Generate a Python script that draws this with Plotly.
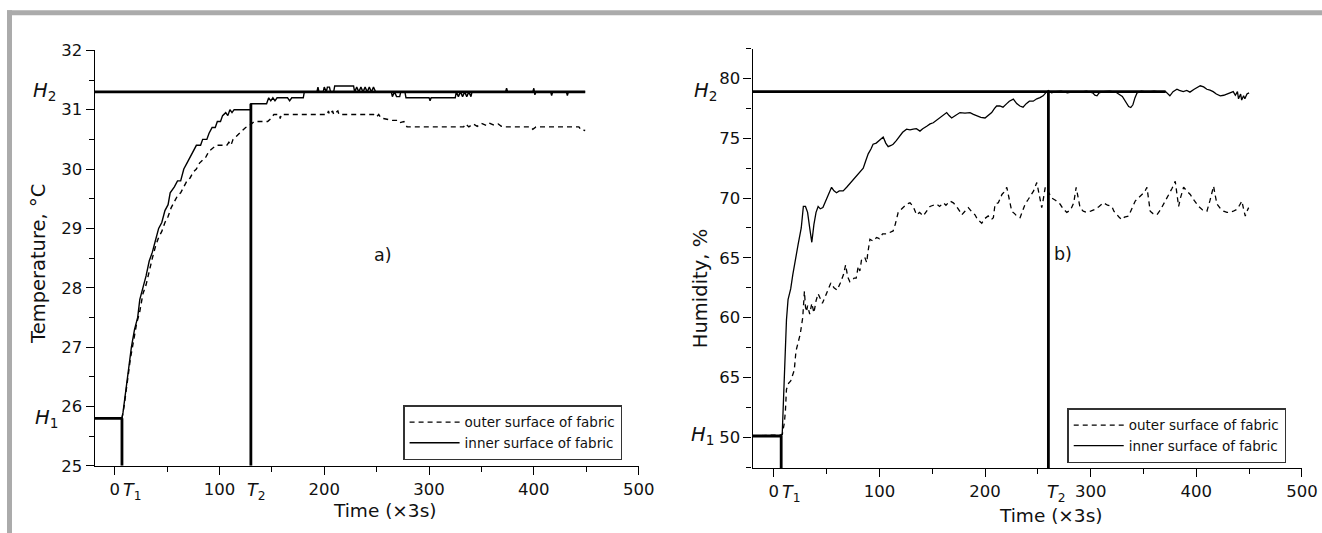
import plotly.graph_objects as go

# ---- data ----------------------------------------------------------------
# a) temperature, time in units of 3 s
T1_A, T2_A = 7, 130
H1_A, H2_A = 25.8, 31.3
T2_LEVEL_A = 31.1

temp_inner_x = [-19, 7, 8, 10, 13, 16, 19, 22, 24, 27, 30, 33, 36, 39, 42, 45, 48, 51, 53, 57,
                60, 63, 66, 69, 72, 75, 78, 82, 84, 88, 90, 93, 96, 98, 101, 103, 106, 108, 110,
                112, 114, 130, 130, 145, 147, 149, 151, 153, 155, 165, 167, 169, 180, 181, 193,
                194, 195, 199, 200, 202, 203, 205, 206, 209, 210, 228, 229, 231, 233, 235, 237,
                239, 241, 243, 245, 247, 249, 264, 265, 267, 269, 272, 273, 277, 278, 300, 301,
                302, 325, 326, 328, 330, 332, 334, 336, 338, 340, 341, 373, 374, 375, 399, 400,
                401, 402, 416, 417, 418, 431, 432, 433, 449]
temp_inner_y = [25.8, 25.8, 25.9, 26.2, 26.6, 27.0, 27.3, 27.5, 27.8, 28.0, 28.2, 28.45, 28.6,
                28.8, 29.0, 29.1, 29.3, 29.4, 29.6, 29.7, 29.8, 29.8, 30.0, 30.1, 30.2, 30.3,
                30.4, 30.4, 30.5, 30.5, 30.6, 30.7, 30.7, 30.8, 30.8, 30.9, 30.95, 30.9, 31.0,
                30.95, 31.0, 31.0, 31.1, 31.1, 31.2, 31.15, 31.2, 31.15, 31.2, 31.2, 31.15, 31.2,
                31.2, 31.3, 31.3, 31.38, 31.3, 31.3, 31.38, 31.3, 31.38, 31.38, 31.3, 31.3, 31.4,
                31.4, 31.3, 31.38, 31.3, 31.38, 31.3, 31.38, 31.3, 31.38, 31.3, 31.38, 31.3, 31.3,
                31.22, 31.3, 31.22, 31.22, 31.3, 31.3, 31.2, 31.2, 31.15, 31.2, 31.2, 31.3, 31.22,
                31.3, 31.22, 31.3, 31.22, 31.3, 31.22, 31.3, 31.3, 31.36, 31.3, 31.3, 31.36,
                31.25, 31.3, 31.3, 31.24, 31.3, 31.3, 31.24, 31.3, 31.3]

temp_outer_x = [-19, 7, 9, 12, 15, 18, 21, 24, 27, 30, 33, 36, 39, 42, 45, 48, 51, 54, 57, 60,
                63, 66, 69, 72, 75, 78, 81, 84, 87, 90, 94, 97, 107, 109, 111, 113, 116, 119,
                122, 125, 128, 130, 133, 146, 149, 152, 157, 158, 159, 203, 204, 205, 208, 209,
                213, 214, 247, 250, 252, 254, 257, 261, 265, 270, 272, 276, 279, 333, 335, 338,
                342, 346, 350, 355, 358, 362, 366, 369, 372, 397, 399, 402, 443, 445, 449]
temp_outer_y = [25.8, 25.8, 26.0, 26.4, 26.8, 27.1, 27.4, 27.6, 27.9, 28.05, 28.3, 28.5, 28.7,
                28.85, 28.95, 29.1, 29.2, 29.35, 29.45, 29.55, 29.6, 29.7, 29.8, 29.85, 29.95,
                30.0, 30.1, 30.15, 30.2, 30.3, 30.35, 30.4, 30.4, 30.45, 30.4, 30.5, 30.55, 30.6,
                30.65, 30.7, 30.72, 30.75, 30.8, 30.8, 30.85, 30.92, 30.92, 30.85, 30.92, 30.92,
                30.98, 30.92, 30.98, 30.92, 30.98, 30.92, 30.92, 30.88, 30.92, 30.86, 30.85,
                30.84, 30.82, 30.82, 30.78, 30.8, 30.71, 30.71, 30.76, 30.71, 30.76, 30.72, 30.77,
                30.73, 30.77, 30.74, 30.76, 30.72, 30.71, 30.71, 30.67, 30.71, 30.71, 30.66, 30.65]

# b) humidity
T1_B, T2_B = 7, 260
H1_B, H2_B = 50.1, 78.9
H2_END_B = 371

hum_inner_x = [-20, 7, 8, 9, 10, 11, 12, 13.5, 16, 18, 20, 23, 26, 28, 30, 32, 34, 36, 38, 40,
               42, 44, 46.5, 49, 51.5, 54.7, 57, 59.4, 62, 65.7, 69, 72, 75, 78.4, 81, 84.7, 87,
               89.4, 92, 94, 97, 100.5, 103.6, 106, 108.3, 111, 113, 116, 119.4, 122, 125.7, 129,
               132, 135, 138.4, 141, 144.8, 148, 151, 154, 157.3, 160, 163.7, 166, 168.4, 172,
               176.3, 181, 185.8, 189, 192, 196, 200, 203, 206.3, 209, 211, 214, 217, 220.6, 223,
               226.8, 230, 233, 236, 239, 242, 245.6, 249, 252, 255, 258.5, 260, 263, 267, 272,
               278, 284, 290, 296, 302, 304, 306, 308, 312, 318, 324, 330, 333, 336, 338, 340,
               342, 344, 348, 354, 360, 366, 371, 375, 378, 381.7, 384, 387.7, 391, 394, 398,
               403.8, 407, 410, 413, 416, 419, 422.7, 426, 429, 432, 435, 437, 439, 440, 442,
               443, 444.8, 446, 448, 450]
hum_inner_y = [50.1, 50.1, 50.3, 52.5, 55.9, 57.6, 59.8, 61.5, 62.4, 63.6, 64.7, 66.1, 67.5,
               69.3, 69.3, 68.8, 67.5, 66.3, 67.8, 68.8, 69.3, 69.1, 69.2, 69.7, 70.3, 70.9,
               70.6, 70.45, 70.6, 70.6, 70.9, 71.2, 71.5, 71.85, 72.1, 72.5, 73.1, 73.7, 74.1,
               74.5, 74.6, 74.9, 75.1, 74.6, 74.3, 74.4, 74.5, 74.8, 75.2, 75.5, 75.76, 75.7,
               75.76, 75.8, 75.6, 75.8, 76.0, 76.2, 76.3, 76.5, 76.7, 76.9, 77.15, 76.9, 76.7,
               76.9, 77.15, 77.1, 77.15, 77.0, 76.9, 76.75, 76.7, 76.9, 77.15, 77.5, 77.7, 77.7,
               77.6, 77.9, 78.1, 78.27, 77.9, 77.7, 77.6, 77.9, 78.1, 78.1, 78.3, 78.4, 78.55,
               78.9, 79.0, 78.8, 78.9, 78.95, 78.8, 78.9, 78.85, 78.95, 78.8, 78.6, 78.55, 78.8,
               78.9, 78.95, 78.85, 78.5, 78.1, 77.65, 77.57, 77.8, 78.4, 78.8, 78.95, 78.85,
               78.95, 78.85, 78.9, 78.55, 78.9, 79.1, 79.0, 78.9, 79.0, 78.86, 79.1, 79.39, 79.3,
               79.1, 79.03, 78.9, 78.7, 78.55, 78.6, 78.7, 78.8, 78.9, 78.6, 78.9, 78.3, 78.7,
               78.2, 78.55, 78.3, 78.7, 78.8]

hum_outer_x = [-20, 8, 10, 11, 12, 14, 16, 19.4, 21, 23, 25, 27.4, 29, 30, 31, 32, 34, 36, 38,
               40, 42, 44, 46, 48, 51, 54, 57, 60, 63, 66, 68, 70, 72, 74, 76, 78, 80, 81.5, 83,
               84, 86.3, 88, 89, 91, 94, 97.3, 100, 103, 106.8, 110, 113, 115, 117.8, 120, 122.6,
               126, 129, 132, 135.2, 138, 141.5, 145, 147.9, 151, 154.2, 157, 160.5, 163, 166.8,
               170, 173, 176, 178, 181, 184.2, 187, 190.5, 193, 196.9, 200, 203, 206, 207.9,
               209.5, 212.6, 216, 218, 220.6, 223, 225.3, 228, 230, 233.2, 236, 238, 241, 244.3,
               246, 249, 251, 253.7, 255, 257, 260, 263.2, 267, 271, 274, 277.4, 281, 284, 286.3,
               288, 290, 293, 296.4, 300, 304.3, 308, 312.2, 316, 320.1, 322, 324.8, 327, 329.6,
               332, 335.9, 339, 342.2, 345, 348.5, 351, 353.3, 355, 356.4, 359, 362.7, 366, 369,
               371, 373.8, 377, 380.1, 382, 383.3, 385, 388, 391, 394.3, 398, 402.2, 406, 410.1,
               413, 416.4, 418, 419.6, 423, 425.9, 429, 432.2, 435, 438.5, 441, 443.2, 445,
               446.4, 448, 449.6]
hum_outer_y = [50.1, 50.2, 51.2, 52.2, 54.0, 54.5, 54.7, 55.6, 57.2, 57.8, 58.6, 60.0, 62.2,
               60.9, 60.5, 61.0, 60.3, 61.2, 60.4, 61.4, 62.0, 61.6, 61.2, 61.6, 62.2, 62.9,
               62.5, 62.3, 62.9, 63.6, 64.4, 63.4, 63.0, 63.1, 63.3, 63.3, 64.3, 63.9, 64.8,
               65.0, 65.0, 64.6, 65.4, 66.55, 66.4, 66.7, 66.6, 67.0, 67.0, 67.1, 67.25, 67.8,
               68.8, 69.0, 69.2, 69.5, 69.6, 69.3, 68.6, 68.8, 68.5, 69.0, 69.3, 69.4, 69.5,
               69.3, 69.6, 69.4, 69.75, 69.6, 69.3, 68.9, 68.6, 68.9, 69.2, 68.9, 68.6, 68.2,
               67.9, 68.3, 68.5, 68.2, 68.36, 69.5, 69.6, 70.3, 70.5, 70.9, 70.0, 68.9, 68.7,
               68.5, 68.36, 69.0, 69.5, 69.9, 70.3, 70.6, 71.3, 70.5, 69.2, 69.8, 70.9, 70.5,
               70.0, 69.8, 69.5, 69.1, 68.8, 69.0, 69.6, 70.9, 70.2, 69.2, 68.9, 68.8, 68.9,
               69.06, 69.3, 69.6, 69.4, 69.3, 68.9, 68.6, 68.4, 68.2, 68.4, 68.5, 69.1, 69.75,
               70.0, 70.3, 70.5, 70.9, 69.8, 68.9, 68.7, 68.6, 69.0, 69.5, 69.8, 70.2, 70.8,
               71.4, 70.3, 69.3, 70.0, 70.9, 70.6, 70.3, 69.8, 69.3, 69.0, 68.9, 69.8, 71.0,
               70.2, 69.5, 69.1, 68.9, 68.8, 68.8, 68.9, 69.06, 69.4, 69.75, 69.0, 68.5, 68.9,
               69.2]

hum_tickvals = [50, 55, 60, 65, 70, 75, 80]
hum_ticktext = ["50", "65", "60", "65", "70", "75", "80"]   # as printed in the source

series_names = ["outer surface of fabric", "inner surface of fabric"]

# ---- layout helpers -------------------------------------------------------
# the page lands in the photo slightly shrunk and shifted down; the figure is
# made a bit larger than the window so it also covers the photo's right and
# bottom edges, and target positions (photo pixels) map onto paper fractions
EXTRA = 24
W, H = 1322 + EXTRA, 533 + EXTRA
SX = 1306.0 * W / 1322
SY = 513.3 * H / 533
OY = 8.8
px = lambda v: v / SX
py = lambda v: 1 - (v - OY) / SY

FONT = "DejaVu Sans"
INK = "#111111"
DASH = "5px,4px"

A_XR, A_YR = [-19, 500], [25, 32]
B_XR, B_YR = [-20, 500], [47.4, 82.5]

fig = go.Figure()

# a) curves
fig.add_trace(go.Scatter(x=temp_outer_x, y=temp_outer_y, mode="lines", name=series_names[0],
                         line=dict(color="black", width=1.4, dash=DASH), xaxis="x", yaxis="y", legend="legend"))
fig.add_trace(go.Scatter(x=temp_inner_x, y=temp_inner_y, mode="lines", name=series_names[1],
                         line=dict(color="black", width=1.4), xaxis="x", yaxis="y", legend="legend"))
# a) marker lines
thick = dict(color="black", width=2.8)
for xs, ys in [([A_XR[0], temp_inner_x[-1]], [H2_A, H2_A]),
               ([A_XR[0], T1_A], [H1_A, H1_A]),
               ([T1_A, T1_A], [A_YR[0], H1_A]),
               ([T2_A, T2_A], [A_YR[0], T2_LEVEL_A])]:
    fig.add_trace(go.Scatter(x=xs, y=ys, mode="lines", line=thick, showlegend=False,
                             xaxis="x", yaxis="y", hoverinfo="skip"))

# b) curves
fig.add_trace(go.Scatter(x=hum_outer_x, y=hum_outer_y, mode="lines", name=series_names[0],
                         line=dict(color="black", width=1.3, dash=DASH), xaxis="x2", yaxis="y2", legend="legend2"))
fig.add_trace(go.Scatter(x=hum_inner_x, y=hum_inner_y, mode="lines", name=series_names[1],
                         line=dict(color="black", width=1.3), xaxis="x2", yaxis="y2", legend="legend2"))
for xs, ys in [([B_XR[0], H2_END_B], [H2_B, H2_B]),
               ([B_XR[0], T1_B], [H1_B, H1_B]),
               ([T1_B, T1_B], [B_YR[0], H1_B]),
               ([T2_B, T2_B], [B_YR[0], H2_B])]:
    fig.add_trace(go.Scatter(x=xs, y=ys, mode="lines", line=thick, showlegend=False,
                             xaxis="x2", yaxis="y2", hoverinfo="skip"))

axis_common = dict(showline=True, linecolor="black", linewidth=1.4, ticks="outside", ticklen=8,
                   tickwidth=1.4, tickcolor="black", showgrid=False, zeroline=False,
                   tickfont=dict(family=FONT, size=16.5, color=INK), fixedrange=True)
minor_x = dict(dtick=50, tick0=0, ticklen=5, ticks="outside", tickcolor="black", tickwidth=1.2)

legend_common = dict(xanchor="left", yanchor="top", bgcolor="white", bordercolor="#333333",
                     borderwidth=1.5, font=dict(family=FONT, size=13.5, color=INK),
                     itemwidth=50, tracegroupgap=0)

fig.update_layout(
    width=W, height=H, autosize=False, margin=dict(l=0, r=0, t=0, b=0),
    paper_bgcolor="white", plot_bgcolor="white",
    font=dict(family=FONT, color=INK),
    xaxis=dict(domain=[px(94.7), px(638.5)], range=A_XR, anchor="y", tickvals=[0, 100, 200, 300, 400, 500],
               minor=minor_x, **axis_common),
    yaxis=dict(domain=[py(464.3), py(50)], range=A_YR, anchor="x", dtick=1,
               minor=dict(dtick=0.5, ticklen=5, ticks="outside", tickcolor="black", tickwidth=1.2), **axis_common),
    xaxis2=dict(domain=[px(752.5), px(1301.6)], range=B_XR, anchor="y2", tickvals=[0, 100, 200, 300, 400, 500],
                minor=minor_x, **axis_common),
    yaxis2=dict(domain=[py(466.7), py(48.3)], range=B_YR, anchor="x2", tickvals=hum_tickvals,
                ticktext=hum_ticktext,
                minor=dict(dtick=2.5, tick0=0, ticklen=5, ticks="outside", tickcolor="black", tickwidth=1.2),
                **axis_common),
    legend=dict(x=px(403), y=py(404), **legend_common),
    legend2=dict(x=px(1067), y=py(407), **legend_common),
)

# outer grey frame of the figure page
fig.add_shape(type="rect", xref="paper", yref="paper", x0=px(7), x1=1, y0=py(15), y1=py(10),
              fillcolor="#ababab", line_width=0, layer="below")
fig.add_shape(type="rect", xref="paper", yref="paper", x0=px(7), x1=px(12), y0=0, y1=py(10),
              fillcolor="#ababab", line_width=0, layer="below")

ann = []
hfont = dict(family=FONT, size=19.5, color=INK)
tfont = dict(family=FONT, size=17.5, color=INK)
title_font = dict(family=FONT, size=18.5, color=INK)
ytitle_font = dict(family=FONT, size=19.5, color=INK)

# H / T markers
ann += [
    dict(text="<i>H</i><sub>2</sub>", xref="paper", yref="y", x=px(31), y=H2_A, xanchor="left", yanchor="middle", font=hfont),
    dict(text="<i>H</i><sub>1</sub>", xref="paper", yref="y", x=px(33), y=H1_A, xanchor="left", yanchor="middle", font=hfont),
    dict(text="<i>H</i><sub>2</sub>", xref="paper", yref="y2", x=px(692), y=H2_B, xanchor="left", yanchor="middle", font=hfont),
    dict(text="<i>H</i><sub>1</sub>", xref="paper", yref="y2", x=px(716), y=H1_B, xanchor="right", yanchor="middle", font=hfont),
    dict(text="<i>T</i><sub>1</sub>", xref="x", yref="paper", x=T1_A, y=py(476), xanchor="left", yanchor="top", font=tfont, xshift=-1),
    dict(text="<i>T</i><sub>2</sub>", xref="x", yref="paper", x=T2_A, y=py(476), xanchor="left", yanchor="top", font=tfont, xshift=-6),
    dict(text="<i>T</i><sub>1</sub>", xref="x2", yref="paper", x=T1_B, y=py(478), xanchor="left", yanchor="top", font=tfont, xshift=-1),
    dict(text="<i>T</i><sub>2</sub>", xref="x2", yref="paper", x=T2_B, y=py(478), xanchor="left", yanchor="top", font=tfont, xshift=-3),
]
# axis titles and panel labels
ann += [
    dict(text="Temperature, °C", xref="paper", yref="paper", x=px(39), y=py(263), textangle=-90,
         xanchor="center", yanchor="middle", font=ytitle_font),
    dict(text="Humidity, %", xref="paper", yref="paper", x=px(700), y=py(288), textangle=-90,
         xanchor="center", yanchor="middle", font=ytitle_font),
    dict(text="Time (×3s)", xref="paper", yref="paper", x=px(385), y=py(509),
         xanchor="center", yanchor="middle", font=title_font),
    dict(text="Time (×3s)", xref="paper", yref="paper", x=px(1051), y=py(514),
         xanchor="center", yanchor="middle", font=title_font),
    dict(text="a)", xref="x", yref="y", x=256, y=28.56, xanchor="center", yanchor="middle", font=tfont),
    dict(text="b)", xref="x2", yref="y2", x=274, y=65.3, xanchor="center", yanchor="middle", font=tfont),
]
for a in ann:
    a["showarrow"] = False
fig.update_layout(annotations=ann)

# pin the figure to the window's top-left corner with no page margin
page_fix = (
    "var de=document.documentElement, bd=document.body;"
    "de.style.margin='0';de.style.padding='0';de.style.overflow='hidden';"
    "bd.style.margin='0';bd.style.padding='0';bd.style.overflow='hidden';"
    "var gd=document.getElementById('{plot_id}');"
    "gd.style.position='fixed';gd.style.left='0px';gd.style.top='0px';"
    "gd.style.width='%dpx';gd.style.height='%dpx';" % (W, H) +
    "Plotly.relayout(gd,{width:%d,height:%d,autosize:false});" % (W, H)
)

fig.write_html("out.html", post_script=page_fix, config={"displayModeBar": False})
